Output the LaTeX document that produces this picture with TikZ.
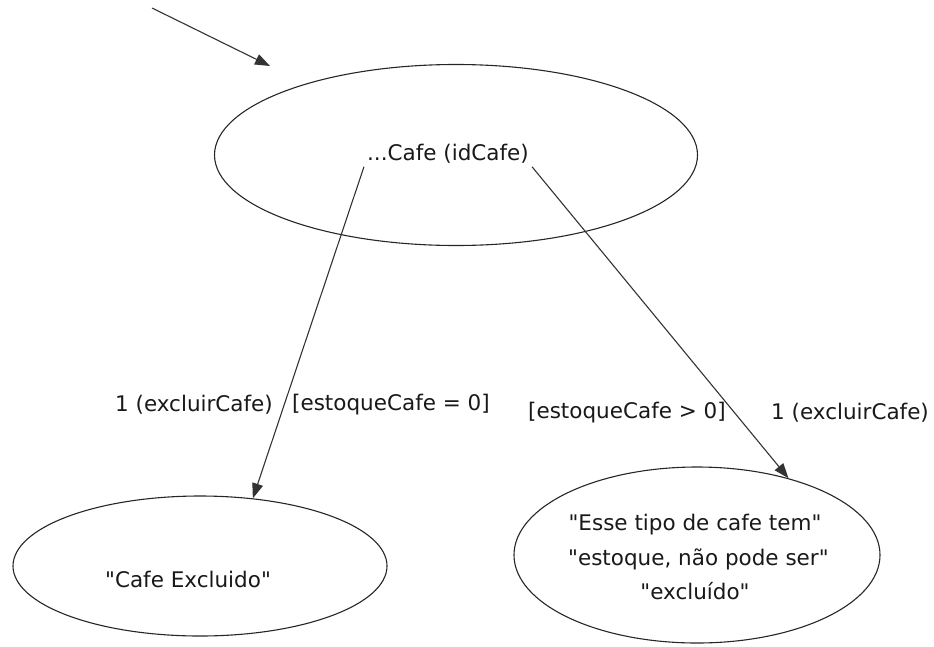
\documentclass[tikz,border=0pt]{standalone}
\usepackage{fontspec}
\setmainfont{DejaVu Sans}
\usetikzlibrary{shapes.geometric,arrows.meta}
\newcommand\dq{\textquotedbl}
\begin{document}
\begin{tikzpicture}[x=1pt,y=-1pt,
  state/.style={draw=black!85,line width=1.1pt,ellipse,inner sep=0pt},
  txt/.style={font=\fontsize{21.5}{25}\selectfont,text=black!90,inner sep=0pt},
  trans/.style={draw=black!80,line width=1.1pt,-{Triangle[length=15pt,width=11pt]}}]
  \useasboundingbox (0,0) rectangle (934,646);
  % states
  \node[state,minimum width=483pt,minimum height=181pt] (top) at (456,155) {};
  \node[txt,inner sep=3pt] (topl) at (448,154) {...Cafe (idCafe)};
  \node[state,minimum width=374pt,minimum height=140pt] (bl) at (200,566) {};
  \node[txt] at (188,579) {\dq Cafe Excluido\dq};
  \node[state,minimum width=366pt,minimum height=176pt] (br) at (697,555) {};
  \node[txt,font=\fontsize{21.5}{34.5}\selectfont,align=center] at (695,557)
    {\dq Esse tipo de cafe tem\dq\\\ \dq estoque, não pode ser\dq\\\dq excluído\dq};
  % initial transition
  \coordinate (init) at (152,8);
  \coordinate (initend) at (270,66);
  \draw[trans] (init) -- (initend);
  % transitions
  \draw[trans] (topl.south west) -- (bl.52);
  \draw[trans] (topl.south east) -- (br.40);
  % transition labels
  \node[txt] (l1) at (194,405) {1 (excluirCafe)};
  \node[txt] (g1) at (391,405) {[estoqueCafe = 0]};
  \node[txt] (g2) at (627,413) {[estoqueCafe > 0]};
  \node[txt] (l2) at (850,413) {1 (excluirCafe)};
\end{tikzpicture}
\end{document}
